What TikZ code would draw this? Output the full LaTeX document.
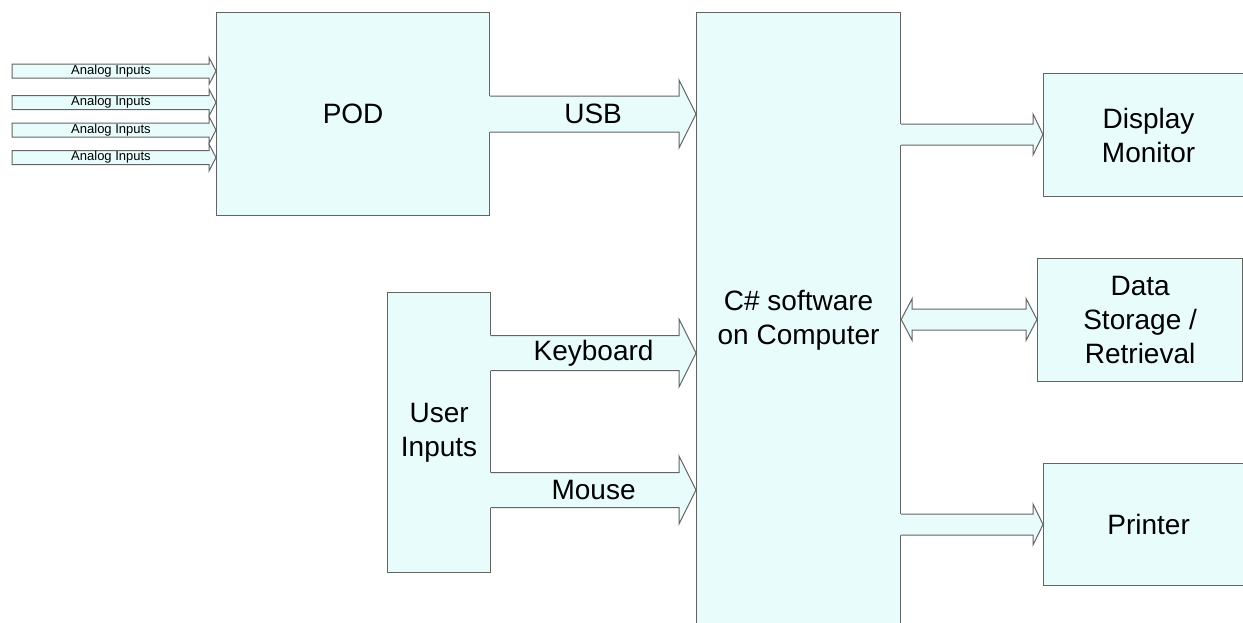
\documentclass[tikz,border=0pt]{standalone}
\usepackage{fontspec}
\setmainfont{Liberation Sans}
\usetikzlibrary{calc}
\definecolor{boxfill}{RGB}{232,252,252}
\definecolor{edge}{RGB}{100,100,100}
\tikzset{
  box/.style={draw=edge, fill=boxfill, line width=1.2pt, anchor=north west,
    inner sep=0pt, align=center, font=\fontsize{28}{34}\selectfont},
  arrowfill/.style={fill=boxfill},
  arrowline/.style={draw=edge, line width=1pt, line join=miter},
  biglabel/.style={font=\fontsize{28}{34}\selectfont, inner sep=0pt},
  smalllabel/.style={font=\fontsize{13}{15}\selectfont, inner sep=0pt},
}
% #1 start, #2 end, #3 shaft half, #4 head half, #5 head length, #6 label style, #7 label
\newcommand\blockarrow[7]{%
  \fill[arrowfill] let \p1=(#1), \p2=(#2) in
    ({\x1-1pt},{\y1+#3pt}) -- ({\x2-#5pt},{\y1+#3pt}) -- ({\x2-#5pt},{\y1+#4pt}) -- (\x2,\y1)
    -- ({\x2-#5pt},{\y1-#4pt}) -- ({\x2-#5pt},{\y1-#3pt}) -- ({\x1-1pt},{\y1-#3pt}) -- cycle;
  \draw[arrowline] let \p1=(#1), \p2=(#2) in
    (\x1,{\y1+#3pt}) -- ({\x2-#5pt},{\y1+#3pt}) -- ({\x2-#5pt},{\y1+#4pt}) -- (\x2,\y1)
    -- ({\x2-#5pt},{\y1-#4pt}) -- ({\x2-#5pt},{\y1-#3pt}) -- (\x1,{\y1-#3pt});
  \path (#1) -- (#2) node[midway,#6]{#7};
}
% closed-base arrow
\newcommand\closedarrow[7]{%
  \filldraw[arrowfill,arrowline] let \p1=(#1), \p2=(#2) in
    (\x1,{\y1+#3pt}) -- ({\x2-#5pt},{\y1+#3pt}) -- ({\x2-#5pt},{\y1+#4pt}) -- (\x2,\y1)
    -- ({\x2-#5pt},{\y1-#4pt}) -- ({\x2-#5pt},{\y1-#3pt}) -- (\x1,{\y1-#3pt}) -- cycle;
  \path (#1) -- (#2) node[midway,xshift=-3pt,#6]{#7};
}
% double-headed arrow
\newcommand\doublearrow[5]{%
  \filldraw[arrowfill,arrowline] let \p1=(#1), \p2=(#2) in
    (\x1,\y1) -- ({\x1+#5pt},{\y1+#4pt}) -- ({\x1+#5pt},{\y1+#3pt}) -- ({\x2-#5pt},{\y1+#3pt})
    -- ({\x2-#5pt},{\y1+#4pt}) -- (\x2,\y1) -- ({\x2-#5pt},{\y1-#4pt}) -- ({\x2-#5pt},{\y1-#3pt})
    -- ({\x1+#5pt},{\y1-#3pt}) -- ({\x1+#5pt},{\y1-#4pt}) -- cycle;
}
\begin{document}
\begin{tikzpicture}[x=1pt,y=-1pt]
\clip (0,0) rectangle (1243,622);
\fill[white] (0,0) rectangle (1243,622);

% boxes
\node[box, minimum width=273pt, minimum height=203pt] (pod) at (216,12) {POD};
\node[box, minimum width=204pt, minimum height=616pt] (cs) at (696,12) {C\# software\\on Computer};
\node[box, minimum width=103pt, minimum height=280pt] (user) at (387,292) {User\\Inputs};
\node[box, minimum width=210pt, minimum height=123pt] (disp) at (1043,73) {Display\\Monitor};
\node[box, minimum width=205pt, minimum height=123pt] (data) at (1037,258) {Data\\Storage /\\Retrieval};
\node[box, minimum width=210pt, minimum height=122pt] (prn) at (1043,463) {Printer};

% analog input arrows
\coordinate (a1) at (12,71);
\coordinate (a2) at (12,102.5);
\coordinate (a3) at (12,130);
\coordinate (a4) at (12,157.5);
\closedarrow{a1}{pod.west |- a1}{7}{13.5}{7}{smalllabel}{Analog Inputs}
\closedarrow{a2}{pod.west |- a2}{7}{13.5}{7}{smalllabel}{Analog Inputs}
\closedarrow{a3}{pod.west |- a3}{7}{13.5}{7}{smalllabel}{Analog Inputs}
\closedarrow{a4}{pod.west |- a4}{7}{13.5}{7}{smalllabel}{Analog Inputs}

% USB, keyboard, mouse
\coordinate (usbY) at (0,114);
\coordinate (kbY) at (0,353);
\coordinate (msY) at (0,490);
\blockarrow{pod.east |- usbY}{cs.west |- usbY}{18}{34}{17}{biglabel}{USB}
\blockarrow{user.east |- kbY}{cs.west |- kbY}{17.5}{34}{17}{biglabel}{Keyboard}
\blockarrow{user.east |- msY}{cs.west |- msY}{17.5}{34}{17}{biglabel}{Mouse}

% outputs
\coordinate (dY) at (0,134.5);
\coordinate (sY) at (0,319.5);
\coordinate (pY) at (0,524.5);
\blockarrow{cs.east |- dY}{disp.west |- dY}{10.5}{20.5}{10}{biglabel}{}
\doublearrow{cs.east |- sY}{data.west |- sY}{10.5}{21}{11}
\blockarrow{cs.east |- pY}{prn.west |- pY}{10.5}{20.5}{10}{biglabel}{}
\end{tikzpicture}
\end{document}
